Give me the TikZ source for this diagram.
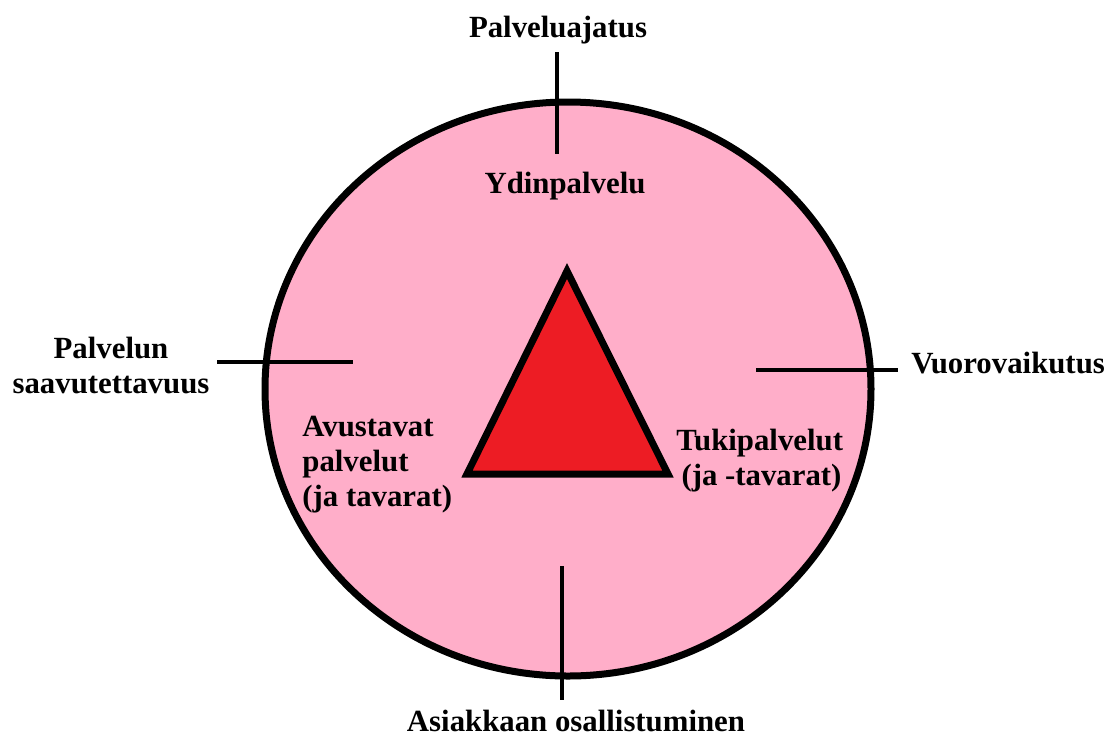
\documentclass[tikz,border=0pt]{standalone}
\usepackage{fontspec}
\setmainfont{Liberation Serif}
\usepackage{tikz}
\usetikzlibrary{
  shapes.geometric
}
\definecolor{RingPink}{HTML}{FFAEC9}
\definecolor{CoreRed}{HTML}{ED1C24}
\tikzset{
  ring/.style={
    ellipse,
    draw=black,
    line width=3.5pt,
    fill=RingPink,
    inner sep=0pt,
    minimum width=303pt,
    minimum height=287pt
  },
  core/.style={
    draw=black,
    line width=3.5pt,
    fill=CoreRed
  },
  tick/.style={
    draw=black,
    line width=2pt
  },
  caption/.style={
    inner sep=0pt,
    font=\fontsize{15.4}{17.5}\selectfont\bfseries
  }
}

\begin{document}
\begin{tikzpicture}[
  x=0.5pt,
  y=-0.5pt
]

  \useasboundingbox (0,0) rectangle (1120,735);

  \node[ring] (ring) at (568,389) {};

  % kolmio
  \coordinate (apex) at (567,271);
  \coordinate (baseL) at (467,474);
  \coordinate (baseR) at (668,474);
  \draw[core] (apex) -- (baseR) -- (baseL) -- cycle;

  % viivat
  \coordinate (topA) at (557,52);
  \coordinate (topB) at (557,154);
  \coordinate (leftA) at (217,362);
  \coordinate (leftB) at (353,362);
  \coordinate (rightA) at (756,370);
  \coordinate (rightB) at (898,370);
  \coordinate (botA) at (562,566);
  \coordinate (botB) at (562,700);
  \draw[tick] (topA) -- (topB);
  \draw[tick] (leftA) -- (leftB);
  \draw[tick] (rightA) -- (rightB);
  \draw[tick] (botA) -- (botB);

  \node[
    caption,
    anchor=base
  ] (idea) at (558,37) {Palveluajatus};

  \node[
    caption,
    anchor=base
  ] (coreserv) at (565,193) {Ydinpalvelu};

  \node[
    caption,
    anchor=north,
    align=center
  ] (access) at (111,337) {
    Palvelun\\
    saavutettavuus
  };

  \node[
    caption,
    anchor=base west
  ] (interact) at (911,373) {Vuorovaikutus};

  \node[
    caption,
    anchor=base
  ] (partic) at (576,731) {Asiakkaan osallistuminen};

  \node[
    caption,
    anchor=north west,
    align=left
  ] (facil) at (302,416) {
    Avustavat\\
    palvelut\\
    (ja tavarat)
  };

  \node[
    caption,
    anchor=north west,
    align=left
  ] (support) at (676,429) {
    Tukipalvelut\\
    \,(ja -tavarat)
  };

\end{tikzpicture}
\end{document}
